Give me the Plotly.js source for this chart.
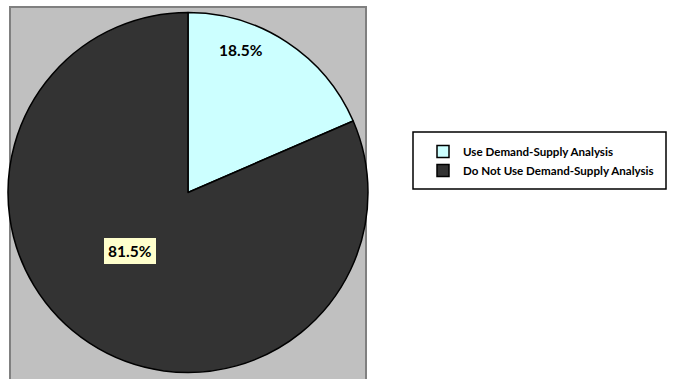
<!DOCTYPE html>
<html>
<head>
<meta charset="utf-8">
<script src="https://cdn.plot.ly/plotly-3.0.1.min.js"></script>
<style>html,body{margin:0;padding:0;background:#fff;}#chart{width:690px;height:379px;}</style>
</head>
<body>
<div id="chart"></div>
<script>
const labels = ["Use Demand-Supply Analysis", "Do Not Use Demand-Supply Analysis"];
const values = [18.5, 81.5];
const colors = ["#CCFFFF", "#333333"];

const W = 690, H = 379;
const px = x => x / W;
const py = y => 1 - y / H;

const trace = {
  type: "pie",
  labels: labels,
  values: values,
  sort: false,
  direction: "clockwise",
  rotation: 0,
  marker: {colors: colors, line: {color: "#000000", width: 1.5}},
  textinfo: "none",
  hoverinfo: "skip",
  domain: {x: [px(8), px(368)], y: [py(373), py(12)]},
  showlegend: true
};

const fmt = v => v.toFixed(1) + "%";

const layout = {
  width: W, height: H,
  margin: {l: 0, r: 0, t: 0, b: 0},
  paper_bgcolor: "#ffffff",
  font: {family: "Lato, 'Open Sans', sans-serif", color: "#000"},
  showlegend: true,
  legend: {
    x: px(423), y: py(161), xanchor: "left", yanchor: "middle",
    bgcolor: "rgba(0,0,0,0)", borderwidth: 0,
    font: {size: 11.6, family: "Lato, sans-serif", weight: "bold", color: "#000"},
    traceorder: "normal"
  },
  shapes: [
    {type: "rect", xref: "paper", yref: "paper", x0: px(10), x1: px(366), y0: py(385), y1: py(7),
     fillcolor: "#C0C0C0", line: {color: "#808080", width: 2}, layer: "below"},
    {type: "rect", xref: "paper", yref: "paper", x0: px(413), x1: px(666), y0: py(189), y1: py(132),
     fillcolor: "rgba(0,0,0,0)", line: {color: "#000000", width: 1.5}}
  ],
  annotations: [
    {xref: "paper", yref: "paper", x: px(241), y: py(50), xanchor: "center", yanchor: "middle",
     text: "<b>" + fmt(values[0]) + "</b>",
     showarrow: false, font: {size: 15.5, family: "Lato, sans-serif", color: "#000"}},
    {xref: "paper", yref: "paper", x: px(130), y: py(251), xanchor: "center", yanchor: "middle",
     text: "<b>" + fmt(values[1]) + "</b>",
     showarrow: false, font: {size: 15.5, family: "Lato, sans-serif", color: "#000"},
     bgcolor: "#FFFFCC", borderwidth: 0, borderpad: 4}
  ]
};

Plotly.newPlot("chart", [trace], layout, {staticPlot: true, displayModeBar: false});
</script>
</body>
</html>
